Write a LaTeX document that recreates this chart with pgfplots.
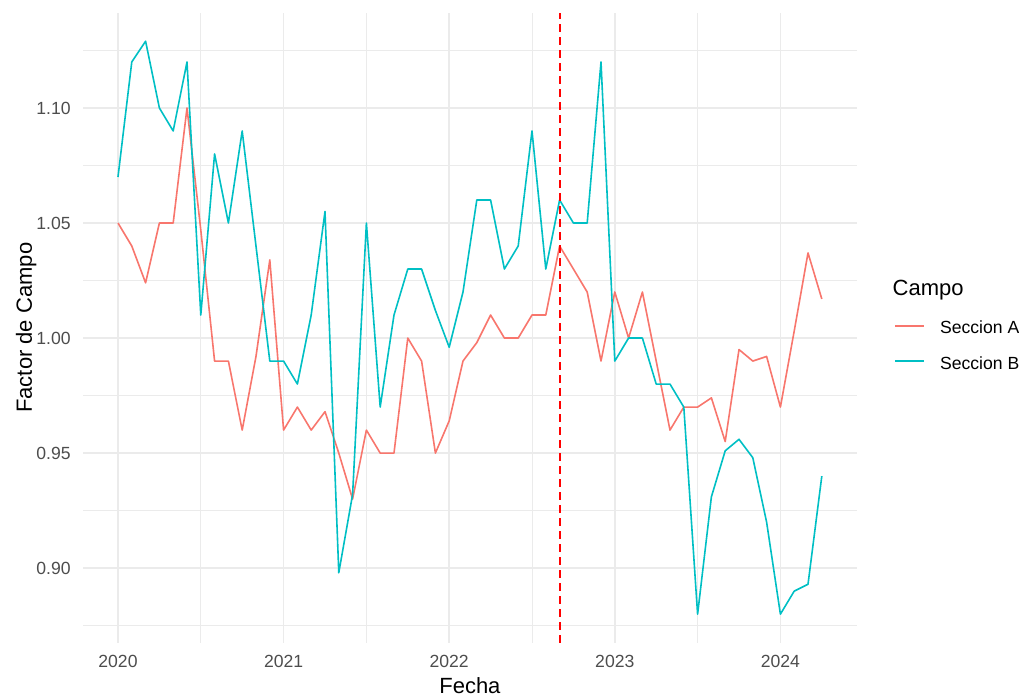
\documentclass[border=0pt]{standalone}
\usepackage{fontspec}
\setmainfont{Liberation Sans}
\newfontfamily\tickfont[Color=4D4D4D]{Liberation Sans}
\usepackage{pgfplots}
\usepackage{pgfplotstable}
\pgfplotsset{compat=1.18}
\definecolor{secA}{HTML}{F8766D}
\definecolor{secB}{HTML}{00BFC4}
\definecolor{grid92}{HTML}{EBEBEB}
\definecolor{vred}{HTML}{FF0000}

\pgfplotstableread{
x A B
2020.0000 1.050 1.070
2020.0833 1.040 1.120
2020.1667 1.024 1.129
2020.2500 1.050 1.100
2020.3333 1.050 1.090
2020.4167 1.100 1.120
2020.5000 1.047 1.010
2020.5833 0.990 1.080
2020.6667 0.990 1.050
2020.7500 0.960 1.090
2020.8333 0.992 1.040
2020.9167 1.034 0.990
2021.0000 0.960 0.990
2021.0833 0.970 0.980
2021.1667 0.960 1.010
2021.2500 0.968 1.055
2021.3333 0.950 0.898
2021.4167 0.930 0.932
2021.5000 0.960 1.050
2021.5833 0.950 0.970
2021.6667 0.950 1.010
2021.7500 1.000 1.030
2021.8333 0.990 1.030
2021.9167 0.950 1.012
2022.0000 0.964 0.996
2022.0833 0.990 1.020
2022.1667 0.998 1.060
2022.2500 1.010 1.060
2022.3333 1.000 1.030
2022.4167 1.000 1.040
2022.5000 1.010 1.090
2022.5833 1.010 1.030
2022.6667 1.040 1.060
2022.7500 1.030 1.050
2022.8333 1.020 1.050
2022.9167 0.990 1.120
2023.0000 1.020 0.990
2023.0833 1.000 1.000
2023.1667 1.020 1.000
2023.2500 0.990 0.980
2023.3333 0.960 0.980
2023.4167 0.970 0.970
2023.5000 0.970 0.880
2023.5833 0.974 0.931
2023.6667 0.955 0.951
2023.7500 0.995 0.956
2023.8333 0.990 0.948
2023.9167 0.992 0.920
2024.0000 0.970 0.880
2024.0833 1.003 0.890
2024.1667 1.037 0.893
2024.2500 1.017 0.940
}\datatable

\begin{document}
\begin{tikzpicture}
\path[use as bounding box] (-41.4pt,-26.6pt) rectangle (468.1pt,321.4pt);
\begin{axis}[
  scale only axis,
  width=387.1pt, height=315.1pt,
  xmin=2019.7875, xmax=2024.4625,
  ymin=0.86755, ymax=1.14145,
  axis line style={draw=none},
  tick style={draw=none},
  major tick length=0pt, minor tick length=0pt,
  xtick={2020,2021,2022,2023,2024},
  xticklabels={2020,2021,2022,2023,2024},
  ytick={0.90,0.95,1.00,1.05,1.10},
  yticklabels={0.90,0.95,1.00,1.05,1.10},
  minor xtick={2020.5,2021.5,2022.5,2023.5},
  minor ytick={0.875,0.925,0.975,1.025,1.075,1.125},
  grid=both,
  major grid style={draw=grid92, line width=0.75pt},
  minor grid style={draw=grid92, line width=0.4pt},
  ticklabel style={font=\fontsize{8.8}{10}\tickfont},
  xticklabel style={anchor=base, yshift=-12.6pt, inner sep=0pt},
  yticklabel style={anchor=east, inner sep=0pt, xshift=-5.9pt},
  xlabel={Fecha},
  xlabel style={at={([yshift=-25.6pt]axis description cs:0.5,0)}, anchor=base, inner sep=0pt, font=\fontsize{11}{13}\selectfont},
  ylabel={Factor de Campo},
  ylabel style={at={([xshift=-25.4pt]axis description cs:0,0.5)}, anchor=base, inner sep=0pt, font=\fontsize{11}{13}\selectfont},
  legend cell align=left,
  legend style={at={(1.04818,0.5154)}, anchor=north west, draw=none, fill=none,
    inner sep=0pt, outer sep=0pt, row sep=9.7pt, column sep=7.5pt,
    font=\fontsize{8.8}{10}\selectfont,
    nodes={inner sep=0pt, text height=8pt, text depth=0pt}},
  legend image code/.code={\draw[#1, line width=0.9pt] (0pt,0pt) -- (14.5pt,0pt);},
]
\addplot[draw=secA, color=secA, line width=0.8pt, line join=round] table[x=x, y=A] {\datatable};
\addlegendentry{Seccion A}
\addplot[draw=secB, color=secB, line width=0.8pt, line join=round] table[x=x, y=B] {\datatable};
\addlegendentry{Seccion B}
\addplot[draw=vred, color=vred, line width=0.95pt, dash pattern=on 4pt off 2.5pt, forget plot] coordinates {(2022.6667,0.86755) (2022.6667,1.14145)};
\end{axis}
\node[anchor=base west, inner sep=0pt, font=\fontsize{11}{13}\selectfont] at (404.75pt,173.5pt) {Campo};
\end{tikzpicture}
\end{document}
